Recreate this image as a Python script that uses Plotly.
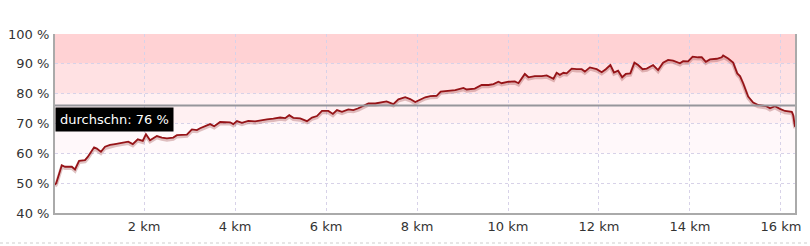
import plotly.graph_objects as go

km = [0.04, 0.07, 0.19, 0.26, 0.41, 0.48, 0.57, 0.70, 0.76, 0.90, 0.96, 1.05, 1.14, 1.25, 1.36, 1.51,
      1.65, 1.75, 1.86, 1.97, 2.04, 2.13, 2.28, 2.39, 2.50, 2.64, 2.72, 2.94, 3.05, 3.16, 3.23, 3.45,
      3.54, 3.67, 3.89, 3.96, 4.04, 4.15, 4.29, 4.44, 4.55, 4.70, 4.84, 4.99, 5.10, 5.19, 5.28, 5.43,
      5.58, 5.69, 5.80, 5.91, 6.05, 6.15, 6.24, 6.35, 6.49, 6.60, 6.71, 6.82, 6.93, 7.08, 7.22, 7.33,
      7.48, 7.59, 7.74, 7.85, 7.96, 8.07, 8.18, 8.29, 8.43, 8.52, 8.73, 8.84, 9.02, 9.09, 9.27, 9.42,
      9.57, 9.68, 9.79, 9.86, 10.01, 10.15, 10.23, 10.37, 10.45, 10.59, 10.74, 10.85, 11.00, 11.07,
      11.14, 11.22, 11.29, 11.40, 11.51, 11.62, 11.69, 11.80, 11.95, 12.06, 12.15, 12.25, 12.33,
      12.42, 12.51, 12.59, 12.69, 12.78, 12.86, 12.96, 13.05, 13.19, 13.30, 13.41, 13.52, 13.63,
      13.78, 13.85, 13.96, 14.06, 14.18, 14.26, 14.35, 14.44, 14.59, 14.70, 14.73, 14.84, 14.95,
      15.04, 15.10, 15.17, 15.28, 15.39, 15.50, 15.61, 15.68, 15.76, 15.87, 15.98, 16.09, 16.24,
      16.27, 16.31]
pct = [49.5, 50.1, 56.0, 55.5, 55.5, 54.6, 57.5, 57.7, 58.8, 62.0, 61.6, 60.5, 62.2, 62.8, 63.1, 63.5,
       63.9, 63.1, 64.7, 64.2, 66.4, 64.4, 65.8, 65.3, 65.0, 65.3, 66.1, 66.3, 68.0, 67.8, 68.4, 69.8,
       69.1, 70.5, 70.4, 69.8, 70.8, 70.2, 70.9, 70.7, 71.1, 71.4, 71.6, 72.0, 71.8, 72.8, 71.9, 71.7,
       70.8, 72.0, 72.5, 74.2, 74.2, 73.2, 74.5, 73.9, 74.7, 74.5, 75.1, 75.9, 76.7, 76.7, 77.1, 77.4,
       76.5, 78.1, 78.8, 78.2, 77.2, 78.1, 78.8, 79.2, 79.3, 80.7, 80.9, 81.2, 81.9, 81.4, 81.7, 82.9,
       82.9, 83.2, 84.0, 83.5, 84.0, 84.1, 83.5, 86.6, 85.5, 85.9, 85.9, 86.1, 85.0, 87.0,
       86.3, 87.0, 86.8, 88.4, 88.2, 88.2, 87.4, 88.8, 88.2, 87.2, 88.2, 89.6, 87.1,
       87.7, 85.5, 86.6, 86.8, 90.4, 89.6, 88.2, 88.4, 89.6, 87.9, 90.4, 91.3, 91.1,
       90.2, 90.9, 90.8, 92.4, 92.2, 92.2, 90.7, 91.5, 91.7, 92.2, 92.8, 91.8, 90.4,
       86.8, 85.9, 83.5, 79.0, 77.0, 76.2, 75.8, 75.8, 75.1, 75.8, 74.9, 74.2, 73.9,
       72.8, 68.9]

avg_value = 76
avg_label = "durchschn: 76 %"
y_ticks = [40, 50, 60, 70, 80, 90, 100]
x_ticks = [2, 4, 6, 8, 10, 12, 14, 16]
bands = [(90, 100, "rgb(255,210,212)"), (80, 90, "rgb(255,225,227)"),
         (70, 80, "rgb(255,240,242)"), (60, 70, "rgb(255,248,250)")]

fig = go.Figure()
# shadow
fig.add_trace(go.Scatter(x=km, y=[p - 0.5 for p in pct], mode="lines",
                         line=dict(color="rgba(150,60,60,0.3)", width=3.5),
                         hoverinfo="skip", showlegend=False))
fig.add_trace(go.Scatter(x=km, y=pct, mode="lines",
                         line=dict(color="rgb(150,20,24)", width=1.8),
                         showlegend=False))

shapes = []
for lo, hi, col in bands:
    shapes.append(dict(type="rect", xref="paper", x0=0, x1=1, yref="y", y0=lo, y1=hi,
                       fillcolor=col, line=dict(width=0), layer="below"))
shapes.append(dict(type="line", xref="paper", x0=0, x1=1, yref="y", y0=avg_value, y1=avg_value,
                   line=dict(color="rgb(150,150,155)", width=2), layer="above"))
shapes.append(dict(type="line", xref="paper", x0=-55 / 740, x1=755 / 740, yref="paper",
                   y0=-30 / 179, y1=-30 / 179,
                   line=dict(color="rgb(205,205,205)", width=1, dash="dot")))

fig.update_layout(
    width=810, height=246,
    margin=dict(l=55, r=15, t=34, b=33, pad=0, autoexpand=False),
    paper_bgcolor="white", plot_bgcolor="white",
    shapes=shapes,
    font=dict(family="DejaVu Sans", size=13, color="#333333"),
    annotations=[dict(xref="paper", x=0, xanchor="left", yref="y", y=avg_value, yanchor="top",
                      yshift=-1, text=avg_label, showarrow=False, bgcolor="black",
                      font=dict(color="white", size=13, family="DejaVu Sans"), borderpad=4)],
    xaxis=dict(range=[0.04, 16.31], tickvals=x_ticks, ticktext=[f"{v} km" for v in x_ticks],
               showgrid=True, gridcolor="rgb(215,210,232)", griddash="dot", gridwidth=1,
               showline=True, linecolor="rgb(170,170,170)", linewidth=2, automargin=False,
               ticks="", zeroline=False, layer="below traces"),
    yaxis=dict(range=[40, 100], tickvals=y_ticks, ticktext=[f"{v} %" for v in y_ticks],
               showgrid=True, gridcolor="rgb(215,210,232)", griddash="dot", gridwidth=1,
               showline=True, mirror=True, linecolor="rgb(170,170,170)", linewidth=2,
               automargin=False,
               ticks="", ticklabelstandoff=1, zeroline=False, layer="below traces"),
)

fig.write_html("out.html")
